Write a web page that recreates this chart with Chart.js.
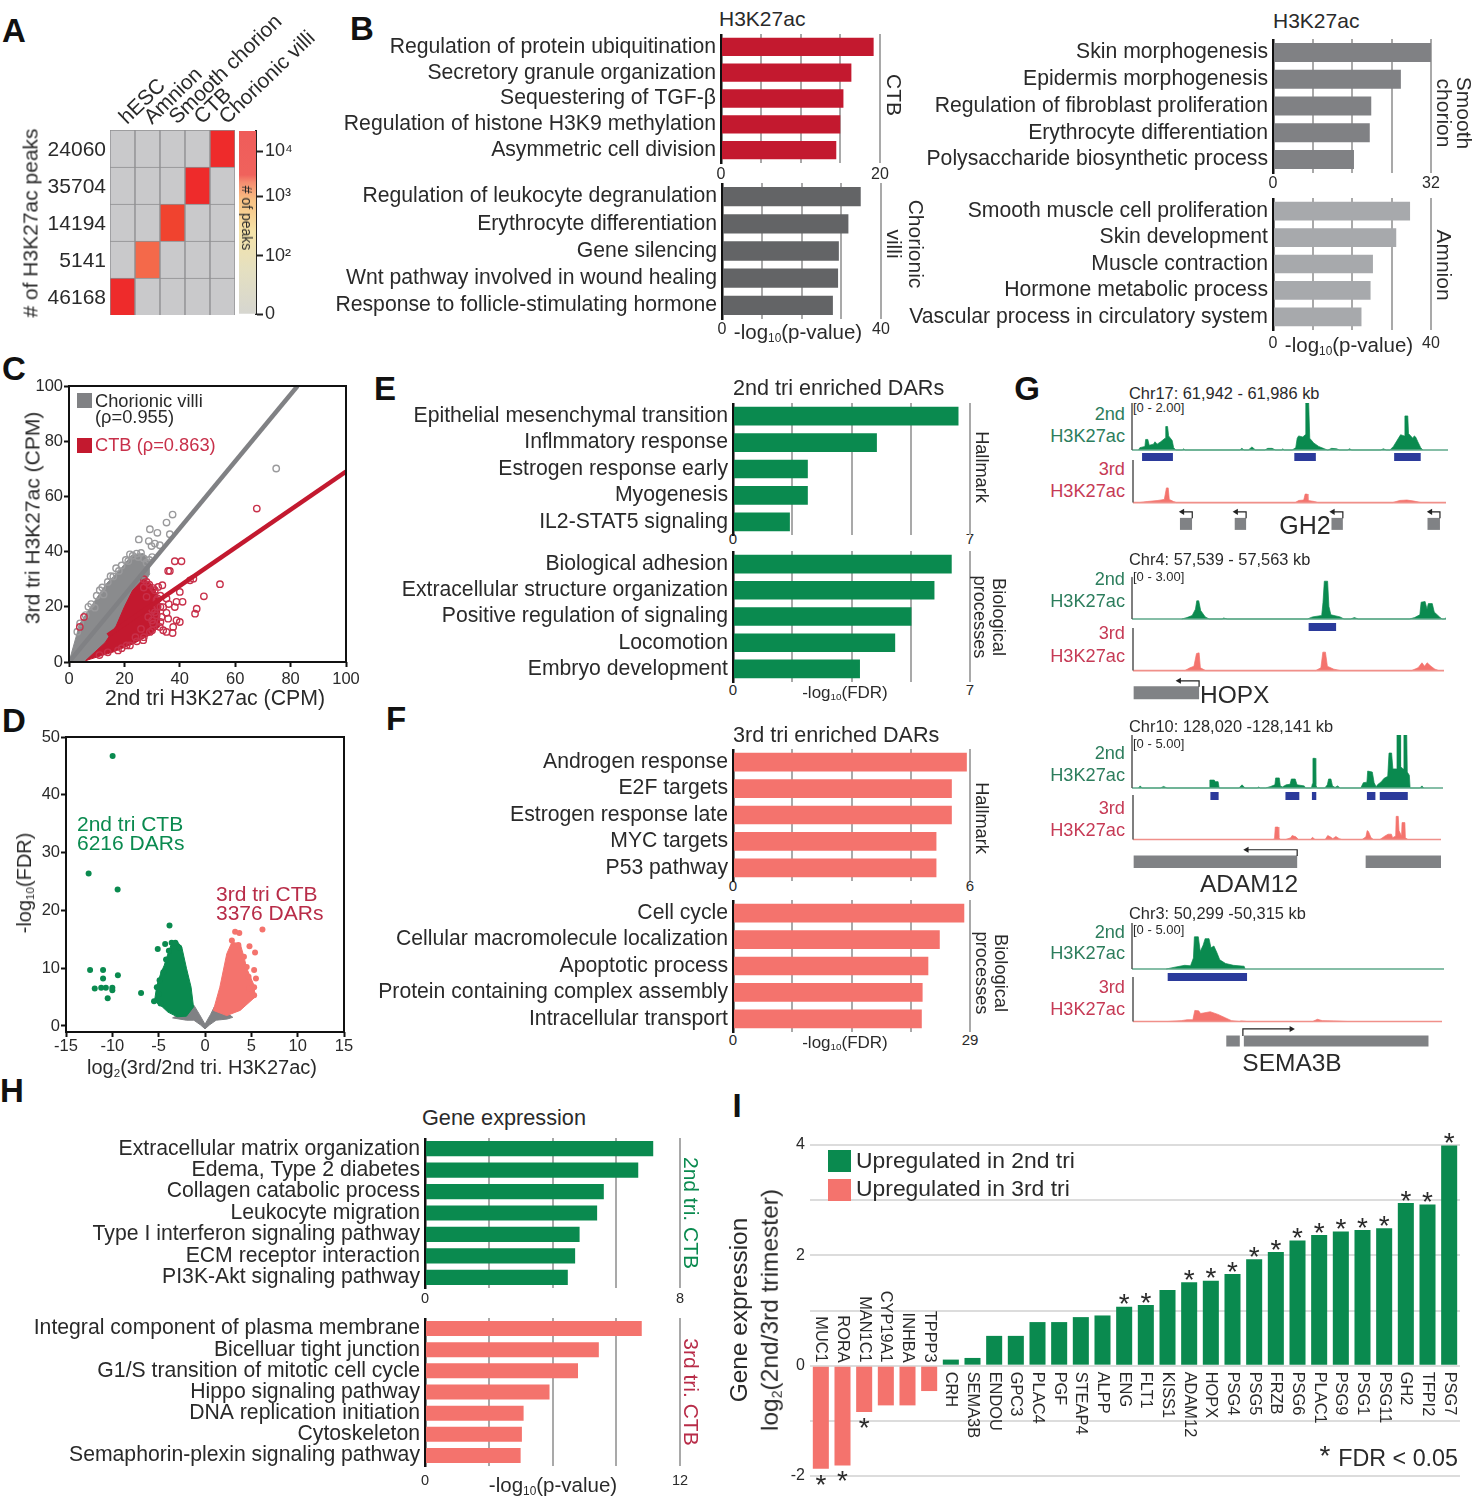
<!DOCTYPE html>
<html>
<head>
<meta charset="utf-8">
<title>H3K27ac CTB figure</title>
<script src="https://cdn.jsdelivr.net/npm/chart.js@4"></script>
<style>
  body { margin: 0; background: #fff; }
  #fig { position: relative; width: 1474px; height: 1500px; overflow: hidden; font-family: "Liberation Sans", Arial, sans-serif; color: #2a2a2a; }
  #fig canvas { position: absolute; }
  .t { position: absolute; white-space: nowrap; line-height: 1; }
  .t sub { font-size: .58em; vertical-align: -.25em; line-height: 0; }
  .sw { position: absolute; }
</style>
</head>
<body>
<div id="fig"></div>
<script>
// panel A
const tissues = ["hESC", "Amnion", "Smooth chorion", "CTB", "Chorionic villi"];
const peakTotals = [46168, 5141, 14194, 35704, 24060];
const colorbarTicks = [0, 1, 2.02, 2.79];
const colorbarLabels = ["0", "10²", "10³", "10⁴"];

// panel B
const ctbTerms = ["Regulation of protein ubiquitination", "Secretory granule organization", "Sequestering of TGF-β", "Regulation of histone H3K9 methylation", "Asymmetric cell division"];
const ctbValues = [19.2, 16.4, 15.4, 15, 14.5];
const villiTerms = ["Regulation of leukocyte degranulation", "Erythrocyte differentiation", "Gene silencing", "Wnt pathway involved in wound healing", "Response to follicle-stimulating hormone"];
const villiValues = [34.9, 31.8, 29.4, 29.2, 27.9];
const smoothTerms = ["Skin morphogenesis", "Epidermis morphogenesis", "Regulation of fibroblast proliferation", "Erythrocyte differentiation", "Polysaccharide biosynthetic process"];
const smoothValues = [32, 25.9, 19.9, 19.6, 16.4];
const amnionTerms = ["Smooth muscle cell proliferation", "Skin development", "Muscle contraction", "Hormone metabolic process", "Vascular process in circulatory system"];
const amnionValues = [34.7, 31.2, 25.3, 24.7, 22.4];

// panel C
const villiLine = [[0, 0], [82.5, 100]];
const ctbLine = [[14, 9.66], [100, 69]];
const villiUpper = [[0, 0], [3.9, 13.9], [8.7, 21.2], [13.5, 28.4], [18.3, 33.3], [22.6, 38.7], [26.8, 39.3], [29.2, 35.7]];
const villiLower = [[0, 0], [6, .3], [13, 5], [18, 12], [22, 20], [29.2, 32]];
const ctbUpper = [[6, .5], [13, 7], [17, 13], [20, 20], [23, 26], [26.8, 30], [30, 28], [33, 22]];
const ctbLower = [[6, .5], [15.9, 3.6], [23.2, 6.6], [29.2, 9.8], [33, 13]];
const villiPoints = [[74.8, 70.1], [37.4, 53.4], [35.2, 50.5], [29.2, 48.1], [31.9, 46.8], [36.4, 46.3], [25.2, 44.4], [28.8, 43.8], [31, 42.9], [29.8, 42], [32.8, 42.3], [21.4, 36.6], [24.4, 39.3], [15, 31.1], [11.1, 26], [9.3, 19.7], [12.5, 24.5], [18, 33], [22, 39], [26, 39.5], [29, 37], [7, 20], [3, 11], [4, 14], [6, 17], [8, 21], [10, 24], [12, 27], [14, 29], [16, 31], [17, 34], [19, 35], [20.5, 37], [23, 38.5], [25, 38], [27, 37.5], [28, 36], [30, 38]];
const ctbPoints = [[67.8, 55.6], [54.5, 28.2], [48.7, 23.8], [46.1, 19.3], [45.5, 17.5], [40.6, 36.5], [38.2, 36.5], [35.8, 33], [36.4, 33], [44.9, 30.2], [43.7, 29.6], [40, 25.4], [41, 21.8], [38.8, 21.8], [38.2, 19.9], [35.2, 17.8], [35.8, 15.7], [31.6, 16.9], [32.2, 27.2], [33.7, 27.8], [30.4, 26.8], [35.2, 23], [34, 19.9], [38.8, 15.1], [40, 14.5], [37.6, 12.7], [37.4, 10.5], [35.2, 10.9], [32.8, 12.7], [30.4, 13.9], [28.6, 16.3], [28, 23.6], [31.6, 22.4], [33.4, 16.3], [34, 11.5], [29.2, 10.9], [26.8, 7.9], [20.8, 6], [17.7, 4.2], [28, 29], [3.9, 12.7], [5.4, 16.3], [30, 19], [33, 24], [27, 27], [30, 15], [26, 12], [24, 9], [36, 21], [32, 20], [27, 30], [29, 28], [31, 26], [32, 23], [33, 20], [31, 18], [33, 14.5], [30, 11.5], [27, 9], [24.5, 7.5], [22, 6], [19, 5], [14, 3.5], [11, 2.5]];

// panel D
const greenUpper = [[-5.45, 4.3], [-5.2, 7], [-4.8, 9], [-4.4, 10.5], [-4, 12.5], [-3.6, 14.3], [-3, 14.6], [-2.5, 13.6], [-2, 10], [-1.5, 6.7], [-1.24, 3.3]];
const greenLower = [[-5.45, 4.3], [-4.6, 3.3], [-4, 2.4], [-3, 1.6], [-2, 1.7], [-1.24, 3.3]];
const salmonUpper = [[.9, 2.7], [1.6, 6.7], [2.35, 12.5], [2.9, 14.5], [3.8, 14.2], [4.2, 12], [4.5, 10], [5.3, 7], [5.4, 5]];
const salmonLower = [[.9, 2.7], [2.35, 1.8], [3.8, 2.7], [5.4, 5]];
const greyUpper = [[-3.5, 1.4], [-3, 1.8], [-1.2, 3.6], [-.6, 2], [0, .3], [.6, 2], [1, 3.3], [2.4, 2.2], [3, 1.5]];
const greyLower = [[-3.5, 1.4], [-2, 1], [-1.2, 1], [-.5, .2], [0, -.5], [.5, .2], [1.2, 1], [2.4, 1.2], [3, 1.5]];
const greenPoints = [[-9.97, 46.7], [-12.56, 26.4], [-9.43, 23.6], [-3.83, 17.4], [-4.3, 14.2], [-5.1, 13.3], [-12.4, 9.7], [-11, 9.7], [-9.4, 8.8], [-11, 8.2], [-11.9, 6.5], [-11.2, 6.6], [-10.7, 6.6], [-10, 6.6], [-10, 6.2], [-10.5, 4.8], [-6.9, 5.7], [-3.6, 14.4], [-5.2, 6.7], [-4.9, 7.9], [-4.5, 9.3], [-5.5, 4.3], [-4.8, 3.9], [-3.2, 14.4], [-2.8, 13.6], [-5, 5.5], [-4.2, 11.5], [-3.9, 13]];
const salmonPoints = [[6.2, 16.7], [3.25, 16.3], [3.7, 16.1], [2.9, 14.8], [4.8, 13.8], [3.6, 14], [5.4, 12.7], [5.3, 9.7], [5.5, 8.2], [4.7, 8.5], [5.3, 6.7], [5.3, 5.3], [4.5, 10.2], [4.2, 12], [4.8, 6.5]];

// panel E
const hallmark2Terms = ["Epithelial mesenchymal transition", "Inflmmatory response", "Estrogen response early", "Myogenesis", "IL2-STAT5 signaling"];
const hallmark2Values = [6.66, 4.25, 2.21, 2.21, 1.68];
const bio2Terms = ["Biological adhesion", "Extracellular structure organization", "Positive regulation of signaling", "Locomotion", "Embryo development"];
const bio2Values = [6.46, 5.95, 5.27, 4.79, 3.75];

// panel F
const hallmark3Terms = ["Androgen response", "E2F targets", "Estrogen response late", "MYC targets", "P53 pathway"];
const hallmark3Values = [5.92, 5.54, 5.54, 5.15, 5.15];
const bio3Terms = ["Cell cycle", "Cellular macromolecule localization", "Apoptotic process", "Protein containing complex assembly", "Intracellular transport"];
const bio3Values = [28.3, 25.3, 23.9, 23.2, 23.1];

// panel G, x is kb from the start of the locus
const gh2Second = [[.9, 0], [1.1, .1], [1.8, .15], [1.9, .45], [2.2, .45], [2.4, .2], [3, .25], [3.2, .35], [3.5, .25], [4, .35], [4.6, .5], [4.7, 1], [4.95, 1], [5.1, .6], [5.6, .4], [5.8, .1], [6.1, 0], [7, 0], [7.2, .05], [7.4, 0], [15, 0], [15.3, .07], [15.6, 0], [16.2, 0], [16.7, .13], [17.2, 0], [18.5, 0], [18.9, .07], [19.5, .07], [20, 0], [20.8, 0], [21, .05], [21.2, 0], [22.3, 0], [22.8, .1], [23, .5], [23.2, .6], [23.8, .55], [24.1, .65], [24.2, 2], [24.6, 2], [24.75, .5], [25.3, .3], [26, .15], [26.8, .05], [27.2, 0], [27.3, 0], [27.8, .07], [28.5, .05], [28.9, 0], [30, 0], [30.3, .05], [30.6, 0], [34.6, 0], [35, .05], [35.4, 0], [35.9, 0], [36.4, .15], [36.9, .4], [37.4, .65], [37.9, .6], [38, 1.45], [38.4, 1.45], [38.5, .7], [39.1, .5], [39.3, .6], [39.5, .55], [39.8, .35], [40.2, .1], [40.5, 0]];
const gh2Third = [[.9, 0], [2, .05], [3.5, .1], [4.4, .15], [4.7, .69], [4.95, .69], [5.1, .15], [5.7, .05], [6.1, 0], [22.8, 0], [23.3, .1], [24, .12], [24.2, .4], [24.5, .4], [24.6, .1], [25.5, .05], [26, 0], [36.5, 0], [37.5, .1], [38.5, .12], [39.5, .07], [40.5, 0]];
const gh2Peaks = [[1.4, 5.7], [22.6, 25.6], [36.5, 40.2]];
const gh2Genes = [[6.6, 8.3], [14.3, 15.9], [27.9, 29.5], [41.4, 43.15]];
const gh2Arrows = [[8.33, 6.94], [15.9, 14.5], [29.5, 28.1], [43.15, 41.8]];

const hopxSecond = [[3.8, 0], [4.2, .1], [4.6, .25], [4.85, .7], [4.95, 1.3], [5.1, 1.3], [5.25, .6], [5.6, .15], [5.9, 0], [6.9, 0], [7, .07], [7.3, 0], [13.4, 0], [13.8, .15], [14.5, .25], [14.6, 1.2], [14.7, 2.7], [14.95, 2.7], [15.05, .9], [15.2, .3], [15.9, .15], [16.2, 0], [16.7, 0], [17, .1], [17.3, 0], [21.2, 0], [21.6, .1], [22, .3], [22.1, 1.2], [22.4, 1.25], [22.55, .7], [22.65, 1.1], [22.95, 1.1], [23.1, .5], [23.5, .15], [23.7, 0], [23.9, 0], [24, .1]];
const hopxThird = [[4, 0], [4.4, .2], [4.7, .3], [4.9, 1.2], [5.1, 1.25], [5.2, .2], [5.6, 0], [14.1, 0], [14.5, .2], [14.65, 1.3], [14.85, 1.3], [15, .3], [15.5, .1], [16, 0], [21.5, 0], [22, .2], [22.3, .55], [22.5, .3], [22.7, .55], [23, .3], [23.3, .1], [23.6, 0]];
const hopxPeaks = [[13.5, 15.6]];
const hopxGenes = [[.05, 5.1]];
const hopxArrows = [[5.1, 3.56]];

const adamSecond = [[2.5, 0], [3.2, .2], [3.9, 0], [11, 0], [12.3, .15], [13.6, 0], [30, 0], [30.3, .75], [32, .75], [32.4, .6], [33.5, .6], [33.9, 0], [41.6, 0], [42.8, .3], [44, 0], [48.7, 0], [49.3, .1], [49.9, 0], [52, 0], [54, .15], [55.6, .3], [55.9, .95], [57.3, .95], [57.7, .2], [58.5, .1], [60, .3], [61.5, .35], [62, .85], [63.5, .85], [64.2, .3], [67, .2], [67.5, 0], [69.8, 0], [70.2, .4], [70.4, 2.8], [71.3, 2.8], [71.5, .3], [72, 0], [75, 0], [76, .3], [76.5, .85], [77.4, .85], [78, .2], [79, .05], [80, .2], [81, 0], [89, 0], [90, .5], [91.4, .55], [91.7, 1.6], [93.5, 1.5], [94.2, .5], [95, .1], [95.5, .3], [97, .6], [98, .9], [99.5, 1.1], [100, 3.3], [101, 3.3], [101.5, 1.8], [102.8, 1.8], [103.1, 5], [104.3, 5], [104.5, 2], [105.5, 1.8], [105.8, 5], [106.9, 5], [107.1, 1.5], [107.9, 1.2], [108.2, 0], [112, 0], [112.8, .2], [113.5, 0]];
const adamThird = [[55, 0], [55.6, .1], [55.9, 1.4], [57, 1.4], [57.3, .2], [58, 0], [60, 0], [62, .2], [62.5, .45], [64, .3], [65, 0], [69.8, 0], [70.5, .25], [71.5, 0], [75.5, 0], [76.5, .45], [77.5, .3], [78.5, .1], [79.7, .35], [81, .1], [82, 0], [90, 0], [91.5, .3], [92, 1], [92.5, .9], [93.5, .2], [94.5, 0], [97, 0], [99, .4], [100.2, .6], [101.5, .6], [102, .2], [103.2, .4], [103.4, 2.6], [104.2, 2.6], [104.5, 1], [105.5, .4], [105.7, 1.9], [106.8, 1.9], [107, .2], [108, 0]];
const adamPeaks = [[30.5, 33.7], [59.7, 65.1], [70, 71.7], [91.4, 94.7], [96.4, 107.3]];
const adamGenes = [[.26, 64.5], [91.4, 121]];
const adamArrows = [[64.5, 44.7]];

const semaSecond = [[1.75, 0], [2.2, .2], [2.7, .4], [3, .35], [3.15, 1.2], [3.2, 3.5], [3.4, 3.5], [3.5, 1.9], [3.65, 2.6], [3.75, 3.3], [3.95, 3.3], [4.05, 2.3], [4.2, 2.5], [4.35, 1.8], [4.5, 1], [4.8, .6], [5.2, .4], [5.75, .3], [5.8, 0]];
const semaThird = [[1.8, 0], [2.5, .1], [2.8, .2], [3.1, .2], [3.2, 1.25], [3.4, 1.2], [3.5, .9], [4, 1.1], [4.4, .8], [4.8, .4], [5.1, .1], [5.5, 0], [5.6, .07], [5.9, 0], [9.3, 0], [9.55, .25], [9.8, .1], [10.4, .07], [11.1, 0]];
const semaPeaks = [[1.83, 5.9]];
const semaGenes = [[4.83, 5.53], [5.74, 15.3]];
const semaArrows = [[5.69, 8.2]];

// panel H
const expr2Terms = ["Extracellular matrix organization", "Edema, Type 2 diabetes", "Collagen catabolic process", "Leukocyte migration", "Type I interferon signaling pathway", "ECM receptor interaction", "PI3K-Akt signaling pathway"];
const expr2Values = [7.16, 6.69, 5.61, 5.4, 4.85, 4.71, 4.48];
const expr3Terms = ["Integral component of plasma membrane", "Bicelluar tight junction", "G1/S transition of mitotic cell cycle", "Hippo signaling pathway", "DNA replication initiation", "Cytoskeleton", "Semaphorin-plexin signaling pathway"];
const expr3Values = [10.2, 8.18, 7.2, 5.86, 4.64, 4.56, 4.5];

// panel I
const genes = ["MUC1", "RORA", "MAN1C1", "CYP19A1", "INHBA", "TPPP3", "CRH", "SEMA3B", "ENDOU", "GPC3", "PLAC4", "PGF", "STEAP4", "ALPP", "ENG", "FLT1", "KISS1", "ADAM12", "HOPX", "PSG4", "PSG5", "FRZB", "PSG6", "PLAC1", "PSG9", "PSG1", "PSG11", "GH2", "TFPI2", "PSG7"];
const geneFC = [-1.87, -1.81, -.84, -.72, -.72, -.46, .11, .14, .54, .54, .79, .79, .88, .91, 1.07, 1.1, 1.37, 1.51, 1.54, 1.66, 1.93, 2.06, 2.27, 2.37, 2.43, 2.46, 2.49, 2.95, 2.92, 3.99];
const geneSig = [1, 1, 1, 0, 0, 0, 0, 0, 0, 0, 0, 0, 0, 0, 1, 1, 0, 1, 1, 1, 1, 1, 1, 1, 1, 1, 1, 1, 1, 1];

const GREEN = "#0a8a4f", SALMON = "#f4736d", RED = "#c3192f", CRIMSON = "#b82c48", INK = "#2a2a2a";
const fig = document.getElementById("fig");
Chart.defaults.font.family = '"Liberation Sans", Arial, sans-serif';
Chart.defaults.color = INK;
Chart.defaults.animation = false;
Chart.defaults.responsive = false;
Chart.defaults.devicePixelRatio = 1;
Chart.defaults.plugins.legend.display = false;
Chart.defaults.plugins.tooltip.enabled = false;

const xy = pairs => pairs.map(p => ({ x: p[0], y: p[1] }));
const fitTo = size => s => {
  s.paddingLeft = s.paddingRight = s.paddingTop = s.paddingBottom = 0;
  if (s.isHorizontal()) s.height = size; else s.width = size;
};

function place(x, y, w, h, config) {
  const c = document.createElement("canvas");
  c.width = w; c.height = h;
  c.style.left = x + "px"; c.style.top = y + "px";
  fig.appendChild(c);
  return new Chart(c, config);
}

function txt(x, y, html, o = {}) {
  const d = document.createElement("div");
  d.className = "t";
  d.innerHTML = html;
  d.style.left = x + "px"; d.style.top = y + "px";
  d.style.fontSize = (o.size || 21) + "px";
  d.style.color = o.color || INK;
  if (o.bold) d.style.fontWeight = "bold";
  const ax = { l: "0", c: "-50%", r: "-100%" }[o.at || "c"];
  d.style.transform = `translate(${ax},-50%) rotate(${o.rot || 0}deg)`;
  fig.appendChild(d);
}

function swatch(x, y, w, h, color) {
  const d = document.createElement("div");
  d.className = "sw";
  d.style.cssText = `left:${x}px;top:${y}px;width:${w}px;height:${h}px;background:${color}`;
  fig.appendChild(d);
}

// horizontal enrichment bars; the plot rect is exactly x0..x1, top..bottom
function hbar(x0, x1, top, bottom, terms, values, max, color, tickSize, tickPad) {
  const L = 400, R = 24, B = 26;
  // chart.js clips tick labels to the axis box, so labels that sit on the plot edge go on top as text
  const overlap = tickPad < 0;
  if (overlap) {
    txt(x0, bottom + 7.5 + tickPad, "0", { size: tickSize });
    txt(x1, bottom + 7.5 + tickPad, String(max), { size: tickSize });
  }
  place(x0 - L, top, L + x1 - x0 + R, bottom - top + B, {
    type: "bar",
    data: { labels: terms, datasets: [{ data: values, backgroundColor: color, barPercentage: .71, categoryPercentage: 1 }] },
    options: {
      indexAxis: "y",
      layout: { padding: { right: R } },
      scales: {
        y: {
          afterFit: fitTo(L),
          grid: { drawOnChartArea: false, drawTicks: false },
          border: { color: "#111", width: 2.5 },
          ticks: { font: { size: 21.2 }, padding: 5, autoSkip: false }
        },
        x: {
          min: 0, max,
          afterFit: fitTo(B),
          grid: { color: "#a9a9a9", lineWidth: 2, drawTicks: false },
          border: { display: false },
          ticks: {
            stepSize: max / 4, autoSkip: false, maxRotation: 0, padding: Math.max(tickPad, 0),
            font: { size: tickSize },
            callback: (v, i, all) => (!overlap && (i === 0 || i === all.length - 1)) ? v : ""
          }
        }
      }
    }
  });
}

const framePlugin = {
  id: "frame",
  afterDraw(chart) {
    const { ctx, chartArea: a } = chart;
    ctx.save();
    ctx.strokeStyle = "#111"; ctx.lineWidth = 2;
    ctx.strokeRect(a.left, a.top, a.right - a.left, a.bottom - a.top);
    ctx.restore();
  }
};

const edge = (pairs, color, fill) => ({ type: "line", data: xy(pairs), borderColor: color, backgroundColor: color, borderWidth: 1, pointRadius: 0, tension: 0, fill: fill ? "+1" : false });
const rings = (pairs, color, radius, filled) => ({ data: xy(pairs), borderColor: color, backgroundColor: filled ? color : "transparent", borderWidth: filled ? 0 : 1.4, pointRadius: radius });

function scatter(x0, x1, y0, y1, xMin, xMax, xStep, yMin, yMax, yTicks, xPad, datasets) {
  const L = 40, R = 20, T = 10, B = 26;
  const axisGrid = { drawOnChartArea: false, drawTicks: true, tickLength: 5, tickColor: "#111", tickWidth: 2 };
  place(x0 - L, y0 - T, L + x1 - x0 + R, T + y1 - y0 + B, {
    type: "scatter",
    data: { datasets },
    plugins: [framePlugin],
    options: {
      layout: { padding: { top: T, right: R } },
      scales: {
        x: {
          min: xMin, max: xMax, afterFit: fitTo(B), grid: axisGrid,
          border: { display: false },
          ticks: { stepSize: xStep, font: { size: 16.5 }, padding: xPad, maxRotation: 0 }
        },
        y: {
          min: yMin, max: yMax, afterFit: fitTo(L), grid: axisGrid,
          border: { display: false },
          afterBuildTicks: s => { s.ticks = yTicks.map(value => ({ value })); },
          ticks: { font: { size: 16.5 }, padding: 1 }
        }
      }
    }
  });
}

// one genome browser lane: signal above the baseline, annotation bars below it
function track(y0, hTop, hBelow, width, kb, yMax, signal, color, baseColor, bars, barColor, barY, barH, arrows, arrowY) {
  const toVal = px => -px * yMax / hTop;
  const flat = (a, b, y, c, w) => ({ data: [{ x: a, y }, { x: b, y }], borderColor: c, borderWidth: w, borderCapStyle: "butt", pointRadius: 0, clip: false, fill: false });
  const sets = [];
  (arrows || []).forEach(a => {
    const boxTop = toVal(barY - barH / 2);
    sets.push({
      data: [{ x: a[0], y: boxTop }, { x: a[0], y: toVal(arrowY) }, { x: a[1], y: toVal(arrowY) }],
      borderColor: "#222", backgroundColor: "#222", borderWidth: 1.2, clip: false, fill: false,
      pointStyle: "triangle", pointRadius: [0, 0, 3.5], pointBorderWidth: 0,
      pointRotation: a[1] < a[0] ? -90 : 90
    });
  });
  (bars || []).forEach(b => sets.push(flat(b[0], b[1], toVal(barY), barColor, barH)));
  sets.push({ data: [{ x: 0, y: 0 }, { x: 0, y: yMax }], borderColor: "#555", borderWidth: 1.5, pointRadius: 0, clip: false, fill: false });
  sets.push(flat(0, kb, 0, baseColor, 1.6));
  sets.push({ data: xy(signal), borderColor: color, backgroundColor: color, borderWidth: .7, pointRadius: 0, tension: 0, fill: "origin" });
  place(1129, y0 - hTop - 2, width + 5, hTop + hBelow + 2, {
    type: "line",
    data: { datasets: sets },
    options: {
      layout: { padding: { left: 3, right: 2, top: 2 } },
      scales: {
        x: { type: "linear", display: false, min: 0, max: kb },
        y: { display: false, min: toVal(hBelow), max: yMax }
      }
    }
  });
}

function locusLabels(title, range, yTitle, yRange, y2nd, yH2, y3rd, yH3) {
  txt(1129, yTitle, title, { at: "l", size: 16.4 });
  txt(1133, yRange, range, { at: "l", size: 13 });
  txt(1125, y2nd, "2nd", { at: "r", size: 18.2, color: "#2c7d5c" });
  txt(1125, yH2, "H3K27ac", { at: "r", size: 18.2, color: "#2c7d5c" });
  txt(1125, y3rd, "3rd", { at: "r", size: 18.2, color: "#c63a55" });
  txt(1125, yH3, "H3K27ac", { at: "r", size: 18.2, color: "#c63a55" });
}

// panel letters
[["A", 14, 30], ["B", 362, 28], ["C", 14, 368], ["D", 14, 720], ["E", 385, 388], ["F", 396, 718], ["G", 1027, 388], ["H", 12, 1090], ["I", 737, 1105]]
  .forEach(p => txt(p[1], p[2], p[0], { size: 33, bold: true, color: "#111" }));

// A: heatmap, stacked unit bars coloured by peak count
const heat = v => v === 0 ? "#c9c9cb" : v > 20000 ? "#ee2b2b" : v > 10000 ? "#f0432f" : "#f4694a";
place(0, 0, 340, 316, {
  type: "bar",
  data: {
    labels: tissues,
    datasets: peakTotals.map((total, r) => ({
      data: tissues.map(() => 1),
      backgroundColor: tissues.map((_, c) => heat(c === r ? total : 0)),
      borderColor: "#8e8e90", borderWidth: 1, barPercentage: 1, categoryPercentage: 1
    }))
  },
  options: {
    layout: { padding: { right: 105, bottom: 1 } },
    scales: {
      x: {
        position: "top", stacked: true, afterFit: fitTo(130),
        grid: { drawOnChartArea: false, drawTicks: false }, border: { display: false },
        ticks: { minRotation: 44, maxRotation: 44, font: { size: 21 }, padding: 0, autoSkip: false, labelOffset: 18 }
      },
      y: {
        stacked: true, min: 0, max: 5, afterFit: fitTo(110),
        grid: { drawOnChartArea: false, drawTicks: false }, border: { display: false },
        afterBuildTicks: s => { s.ticks = peakTotals.map((_, i) => ({ value: i + .45 })); },
        ticks: { font: { size: 21 }, padding: 4, callback: v => peakTotals[Math.floor(v)] }
      }
    }
  }
});
place(239, 126, 60, 194, {
  type: "bar",
  data: {
    labels: ["peaks"],
    datasets: [{
      data: [3.14], barPercentage: 1, categoryPercentage: 1,
      backgroundColor: c => {
        const a = c.chart.chartArea;
        if (!a) return "#ccc";
        const g = c.chart.ctx.createLinearGradient(0, a.bottom, 0, a.top);
        g.addColorStop(0, "#d6d6d0"); g.addColorStop(.25, "#e5e0c0"); g.addColorStop(.45, "#f5e3a8");
        g.addColorStop(.62, "#f8c284"); g.addColorStop(.72, "#f58c70"); g.addColorStop(.76, "#f0625c"); g.addColorStop(1, "#ef5c5a");
        return g;
      }
    }]
  },
  options: {
    layout: { padding: { top: 5, bottom: 6 } },
    scales: {
      x: { display: false },
      y: {
        position: "right", min: 0, max: 3.14, afterFit: fitTo(43),
        border: { color: "#222", width: 2 },
        grid: { drawOnChartArea: false, tickLength: 7, tickColor: "#222", tickWidth: 2 },
        afterBuildTicks: s => { s.ticks = colorbarTicks.map(value => ({ value })); },
        ticks: { font: { size: 18 }, padding: 2, callback: (v, i) => colorbarLabels[i] }
      }
    }
  }
});
txt(30, 223, "# of H3K27ac peaks", { rot: -90, size: 21 });
txt(247, 218, "# of peaks", { rot: 90, size: 14 });

// B
txt(719, 18, "H3K27ac", { at: "l" });
txt(1273, 20, "H3K27ac", { at: "l" });
hbar(721, 880, 34, 163, ctbTerms, ctbValues, 20, RED, 16, 2);
hbar(722, 881, 183, 319, villiTerms, villiValues, 40, "#636466", 16, 1);
hbar(1273, 1431, 39, 173, smoothTerms, smoothValues, 32, "#808184", 16, 1);
hbar(1273, 1431, 198, 330, amnionTerms, amnionValues, 40, "#a7a9ac", 16, 4);
txt(894, 95, "CTB", { rot: 90, size: 21 });
txt(894, 244, "villi", { rot: 90, size: 21 });
txt(916, 244, "Chorionic", { rot: 90, size: 21 });
txt(1464, 113, "Smooth", { rot: 90, size: 21 });
txt(1444, 113, "chorion", { rot: 90, size: 21 });
txt(1444, 265, "Amnion", { rot: 90, size: 21 });
txt(798, 332, "-log<sub>10</sub>(p-value)", { size: 20.5 });
txt(1349, 345, "-log<sub>10</sub>(p-value)", { size: 20.5 });

// C
scatter(69, 346, 386, 662, 0, 100, 20, 0, 100, [0, 20, 40, 60, 80, 100], 3, [
  { type: "line", data: xy(ctbLine), borderColor: RED, borderWidth: 4.5, pointRadius: 0 },
  { type: "line", data: xy(villiLine), borderColor: "#808184", borderWidth: 4.5, pointRadius: 0 },
  rings(ctbPoints, "#c8304a", 3.2),
  edge(ctbUpper, RED, true),
  edge(ctbLower, RED, false),
  rings(villiPoints, "#9a9a9c", 3.2),
  edge(villiUpper, "#8a8b8d", true),
  edge(villiLower, "#8a8b8d", false)
]);
swatch(77, 393, 15, 15, "#808184");
txt(95, 401, "Chorionic villi", { at: "l", size: 18.3 });
txt(95, 417, "(ρ=0.955)", { at: "l", size: 18.3 });
swatch(77, 438, 15, 15, RED);
txt(95, 445, "CTB (ρ=0.863)", { at: "l", size: 18.3, color: "#c8304a" });
txt(215, 699, "2nd tri H3K27ac (CPM)", { size: 21.3 });
txt(32, 518, "3rd tri H3K27ac (CPM)", { rot: -90, size: 21 });

// D
scatter(66, 344, 737, 1032, -15, 15, 5, -1.04, 50, [0, 10, 20, 30, 40, 50], 0, [
  rings(greenPoints, GREEN, 3, true),
  rings(salmonPoints, SALMON, 3, true),
  edge(greenUpper, GREEN, true),
  edge(greenLower, GREEN, false),
  edge(salmonUpper, SALMON, true),
  edge(salmonLower, SALMON, false),
  edge(greyUpper, "#808184", true),
  edge(greyLower, "#808184", false)
]);
txt(77, 823, "2nd tri CTB", { at: "l", size: 21, color: GREEN });
txt(77, 842, "6216 DARs", { at: "l", size: 21, color: GREEN });
txt(216, 893, "3rd tri CTB", { at: "l", size: 21, color: CRIMSON });
txt(216, 912, "3376 DARs", { at: "l", size: 21, color: CRIMSON });
txt(24, 883, "-log<sub>10</sub>(FDR)", { rot: -90, size: 20 });
txt(202, 1067, "log<sub>2</sub>(3rd/2nd tri. H3K27ac)", { size: 20 });

// E
txt(733, 388, "2nd tri enriched DARs", { at: "l", size: 21.6 });
hbar(733, 970, 403, 535, hallmark2Terms, hallmark2Values, 7, GREEN, 15, -4.5);
hbar(733, 970, 551, 682, bio2Terms, bio2Values, 7, GREEN, 15, -.5);
txt(982, 467, "Hallmark", { rot: 90, size: 18.2 });
txt(999, 617, "Biological", { rot: 90, size: 18.2 });
txt(980, 617, "processes", { rot: 90, size: 18.2 });
txt(845, 692, "-log<sub>10</sub>(FDR)", { size: 17 });

// F
txt(733, 735, "3rd tri enriched DARs", { at: "l", size: 21.6 });
hbar(733, 970, 749, 881, hallmark3Terms, hallmark3Values, 6, SALMON, 15, -3.5);
hbar(733, 970, 900, 1032, bio3Terms, bio3Values, 29, SALMON, 15, -.5);
txt(982, 818, "Hallmark", { rot: 90, size: 18.2 });
txt(1001, 973, "Biological", { rot: 90, size: 18.2 });
txt(982, 973, "processes", { rot: 90, size: 18.2 });
txt(845, 1042, "-log<sub>10</sub>(FDR)", { size: 17 });

// G
const BLUE = "#2b3a9b", GENE = "#808285";
const BASE2 = "#5ea88a", BASE3 = "#f0908a";
locusLabels("Chr17: 61,942 - 61,986 kb", "[0 - 2.00]", 393, 407, 414, 436, 469, 491);
track(450, 47, 14, 316, 44, 2, gh2Second, GREEN, BASE2, gh2Peaks, BLUE, 7, 8);
track(504, 46, 35, 316, 44, 2, gh2Third, SALMON, BASE3, gh2Genes, GENE, 23, 12, gh2Arrows, 10);
txt(1305, 525, "GH2", { size: 25 });

locusLabels("Chr4: 57,539 - 57,563 kb", "[0 - 3.00]", 559, 576, 579, 601, 633, 656);
track(619, 42, 14, 314, 24, 3, hopxSecond, GREEN, BASE2, hopxPeaks, BLUE, 8, 8);
track(672, 46, 35, 314, 24, 3, hopxThird, SALMON, BASE3, hopxGenes, GENE, 24, 13, hopxArrows, 11);
txt(1200, 695, "HOPX", { at: "l", size: 24.5 });

locusLabels("Chr10: 128,020 -128,141 kb", "[0 - 5.00]", 726, 743, 753, 775, 808, 830);
track(788, 53, 14, 311, 121, 5, adamSecond, GREEN, BASE2, adamPeaks, BLUE, 8, 8);
track(841, 48, 35, 311, 121, 5, adamThird, SALMON, BASE3, adamGenes, GENE, 24, 12.5, adamArrows, 11);
txt(1249, 884, "ADAM12", { size: 24.5 });

locusLabels("Chr3: 50,299 -50,315 kb", "[0 - 5.00]", 913, 929, 932, 953, 987, 1009);
track(969, 46, 14, 312, 16, 5, semaSecond, GREEN, BASE2, semaPeaks, BLUE, 8, 8);
track(1023, 48, 35, 312, 16, 5, semaThird, SALMON, BASE3, semaGenes, GENE, 21, 11, semaArrows, 8);
txt(1292, 1063, "SEMA3B", { size: 24.5 });

// H
txt(422, 1118, "Gene expression", { at: "l", size: 21.7 });
hbar(425, 680, 1138, 1288, expr2Terms, expr2Values, 8, GREEN, 14.5, 2);
hbar(425, 680, 1318, 1466, expr3Terms, expr3Values, 12, SALMON, 14.5, 6.5);
txt(691, 1213, "2nd tri. CTB", { rot: 90, size: 21, color: GREEN });
txt(691, 1392, "3rd tri. CTB", { rot: 90, size: 21, color: CRIMSON });
txt(553, 1485, "-log<sub>10</sub>(p-value)", { size: 20.5 });

// I
const genePlugin = {
  id: "geneLabels",
  afterDatasetsDraw(chart) {
    const { ctx } = chart;
    const xs = chart.scales.x, ys = chart.scales.y;
    const zero = ys.getPixelForValue(0);
    ctx.save();
    ctx.textBaseline = "middle";
    genes.forEach((g, i) => {
      const x = xs.getPixelForValue(i), up = geneFC[i] > 0;
      ctx.save();
      ctx.translate(x, up ? zero + 6 : zero - 3);
      ctx.rotate(Math.PI / 2);
      ctx.textAlign = up ? "left" : "right";
      ctx.font = '16.4px "Liberation Sans"';
      ctx.fillStyle = INK;
      ctx.fillText(g, 0, 0);
      ctx.restore();
      if (geneSig[i]) {
        const end = ys.getPixelForValue(geneFC[i]);
        ctx.font = '28px "Liberation Sans"';
        ctx.textAlign = "center";
        ctx.fillStyle = INK;
        ctx.fillText("*", x, up ? end - 1 : end + 17);
      }
    });
    ctx.restore();
  }
};
place(780, 1125, 690, 375, {
  type: "bar",
  data: {
    labels: genes,
    datasets: [{
      data: geneFC, barPercentage: .74, categoryPercentage: 1,
      backgroundColor: geneFC.map(v => v > 0 ? GREEN : SALMON)
    }]
  },
  plugins: [genePlugin],
  options: {
    layout: { padding: { top: 20, right: 10, bottom: 24 } },
    scales: {
      x: { display: false },
      y: {
        min: -2, max: 4, afterFit: fitTo(30),
        grid: { color: "#dcdcdc", lineWidth: 2, drawTicks: false },
        border: { display: false },
        afterBuildTicks: s => { s.ticks = [-2, -1, 0, 1, 2, 3, 4].map(value => ({ value })); },
        ticks: { font: { size: 16 }, padding: 5, callback: v => v % 2 === 0 ? v : "" }
      }
    }
  }
});
swatch(828, 1150, 23, 22, GREEN);
swatch(828, 1179, 23, 22, SALMON);
txt(856, 1160, "Upregulated in 2nd tri", { at: "l", size: 22.9 });
txt(856, 1188, "Upregulated in 3rd tri", { at: "l", size: 22.9 });
txt(739, 1310, "Gene expression", { rot: -90, size: 24.4 });
txt(770, 1310, "log<sub>2</sub>(2nd/3rd trimester)", { rot: -90, size: 24.5 });
txt(1458, 1459, "FDR &lt; 0.05", { at: "r", size: 23.3 });
txt(1325, 1456, "*", { size: 28 });
</script>
</body>
</html>
